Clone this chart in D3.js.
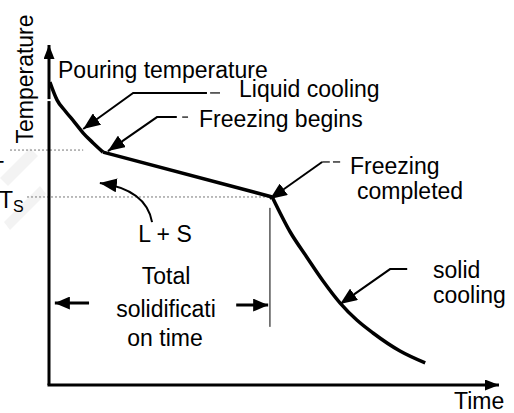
<!DOCTYPE html>
<html>
<head>
  <meta charset="utf-8">
  <style>
    body { margin: 0; background: white; }
    svg text { font-family: Arial, "Liberation Sans", Helvetica, sans-serif; fill: black; }
  </style>
</head>
<body>
  <svg id="chart"></svg>
  <script src="https://cdn.jsdelivr.net/npm/d3@7"></script>
  <script>
    // cooling curve (time 0-100, temperature 0-100)
    var liquidTime = [0.2, 1.8, 3.6, 5.6, 7.6, 9.8, 12.0];
    var liquidTemp = [89.1, 83.8, 80.6, 77.4, 74.1, 71.2, 68.5];
    var plateauTime = [12.0, 49.6];
    var plateauTemp = [68.5, 55.3];
    var solidTime = [49.6, 53.6, 57.3, 60.9, 64.7, 68.4, 72.0, 78.0, 83.6];
    var solidTemp = [55.3, 45.0, 37.6, 30.6, 24.1, 19.1, 15.3, 10.0, 6.5];
    var liquidusTemp = 69.1;
    var solidusTemp = 55.3;

    var labels = ["Pouring temperature", "Liquid cooling", "Freezing begins",
                  "Freezing", "completed", "solid", "cooling", "L + S",
                  "Total", "solidificati", "on time"];

    var width = 514, height = 413;
    var svg = d3.select("#chart").attr("width", width).attr("height", height);

    var x = d3.scaleLinear().domain([0, 100]).range([49, 499]);
    var y = d3.scaleLinear().domain([0, 100]).range([385, 45]);

    var defs = svg.append("defs");
    function marker(id, len, wid) {
      defs.append("marker")
        .attr("id", id)
        .attr("viewBox", "0 0 " + len + " " + wid)
        .attr("refX", len).attr("refY", wid / 2)
        .attr("markerWidth", len).attr("markerHeight", wid)
        .attr("markerUnits", "userSpaceOnUse")
        .attr("orient", "auto")
        .append("path")
        .attr("d", "M0,0L" + len + "," + (wid / 2) + "L0," + wid + "Z")
        .attr("fill", "black");
    }
    marker("axisHead", 14, 11);
    marker("leadHead", 17, 14);
    marker("spanHead", 15, 13);

    // faint watermark at the left edge
    svg.append("path")
      .attr("d", "M0,178L30,148L38,156L8,186Z M4,222L40,186L46,194L10,230Z")
      .attr("fill", "#f3f3f3");

    // dotted reference lines
    svg.append("line")
      .attr("x1", 10).attr("x2", x(7.6))
      .attr("y1", y(liquidusTemp)).attr("y2", y(liquidusTemp))
      .attr("stroke", "#777").attr("stroke-dasharray", "2,2");
    svg.append("line")
      .attr("x1", 27).attr("x2", x(plateauTime[1]))
      .attr("y1", y(solidusTemp)).attr("y2", y(solidusTemp))
      .attr("stroke", "#777").attr("stroke-dasharray", "2,2");

    // axes
    svg.append("line")
      .attr("x1", x(0)).attr("y1", y(0)).attr("x2", x(0)).attr("y2", y(100))
      .attr("stroke", "black").attr("stroke-width", 3)
      .attr("marker-end", "url(#axisHead)");
    svg.append("line")
      .attr("x1", x(0) - 1.5).attr("y1", y(0)).attr("x2", x(100)).attr("y2", y(0))
      .attr("stroke", "black").attr("stroke-width", 3)
      .attr("marker-end", "url(#axisHead)");
    // small white gap in the axis
    svg.append("line")
      .attr("x1", x(-0.7)).attr("x2", x(1.1))
      .attr("y1", y(83.8)).attr("y2", y(83.8))
      .attr("stroke", "white").attr("stroke-width", 2);

    // curve
    function seg(ts, vs, curve) {
      var pts = ts.map(function(t, i) { return [t, vs[i]]; });
      svg.append("path")
        .datum(pts)
        .attr("d", d3.line().x(function(d) { return x(d[0]); })
                            .y(function(d) { return y(d[1]); })
                            .curve(curve))
        .attr("fill", "none")
        .attr("stroke", "black")
        .attr("stroke-width", 3.5)
        .attr("stroke-linejoin", "round");
    }
    seg(liquidTime, liquidTemp, d3.curveMonotoneX);
    seg(plateauTime, plateauTemp, d3.curveLinear);
    seg(solidTime, solidTemp, d3.curveMonotoneX);

    // leader arrows
    function lead(pts, dash) {
      svg.append("path")
        .attr("d", d3.line()(pts.map(function(p) { return [x(p[0]), y(p[1])]; })))
        .attr("fill", "none").attr("stroke", "black").attr("stroke-width", 2)
        .attr("marker-end", "url(#leadHead)");
      if (dash) {
        dash.forEach(function(d) {
          svg.append("line")
            .attr("x1", x(d[0])).attr("x2", x(d[1]))
            .attr("y1", y(d[2])).attr("y2", y(d[2]))
            .attr("stroke", "black").attr("stroke-width", 1.2);
        });
      }
    }
    lead([[35.1, 85.9], [18.7, 85.9], [7.6, 75.3]], [[35.8, 38.0, 85.9]]);
    lead([[28.4, 78.8], [24.0, 78.8], [13.1, 68.8]], [[29.6, 30.9, 78.8]]);
    lead([[60.7, 65.6], [49.1, 54.7]], [[60.7, 62.4, 65.6], [63.1, 64.7, 65.6]]);
    lead([[79.6, 34.1], [75.8, 34.1], [64.7, 23.8]], null);

    // L + S curved arrow
    svg.append("path")
      .attr("d", "M" + x(22.9) + "," + y(47.9) + "Q" + x(21.6) + "," + y(57.5) + " " + x(11.3) + "," + y(59.4))
      .attr("fill", "none").attr("stroke", "black").attr("stroke-width", 2)
      .attr("marker-end", "url(#leadHead)");

    // total solidification time span
    svg.append("line")
      .attr("x1", x(8.9)).attr("x2", x(1.3)).attr("y1", y(24.1)).attr("y2", y(24.1))
      .attr("stroke", "black").attr("stroke-width", 3).attr("marker-end", "url(#spanHead)");
    svg.append("line")
      .attr("x1", x(41.6)).attr("x2", x(48.7)).attr("y1", y(23.5)).attr("y2", y(23.5))
      .attr("stroke", "black").attr("stroke-width", 3).attr("marker-end", "url(#spanHead)");
    svg.append("line")
      .attr("x1", x(49.1)).attr("x2", x(49.1)).attr("y1", y(52.1)).attr("y2", y(17.1))
      .attr("stroke", "black").attr("stroke-width", 1);

    // labels
    var fs = 23;
    var place = [
      [58, 78, "start"], [239, 97, "start"], [199, 127, "start"],
      [350, 174, "start"], [357, 199, "start"], [433, 278, "start"],
      [433, 303, "start"], [165, 242, "middle"], [166, 284, "middle"],
      [166, 317, "middle"], [165, 346, "middle"]
    ];
    svg.append("g").selectAll("text")
      .data(labels)
      .join("text")
      .attr("x", function(d, i) { return place[i][0]; })
      .attr("y", function(d, i) { return place[i][1]; })
      .attr("text-anchor", function(d, i) { return place[i][2]; })
      .attr("font-size", fs)
      .text(function(d) { return d; });

    svg.append("text")
      .attr("x", 454).attr("y", 409)
      .attr("font-size", fs).text("Time");
    svg.append("text")
      .attr("transform", "translate(33,79) rotate(-90)")
      .attr("text-anchor", "middle")
      .attr("font-size", fs).text("Temperature");

    var ts = svg.append("text").attr("x", -1).attr("y", 208).attr("font-size", fs);
    ts.append("tspan").text("T");
    ts.append("tspan").attr("font-size", 16).attr("dy", 4).text("S");
    // liquidus label, cut off at the left edge as in the original
    svg.append("text").attr("x", -10).attr("y", 178).attr("font-size", fs).text("T");
  </script>
</body>
</html>
